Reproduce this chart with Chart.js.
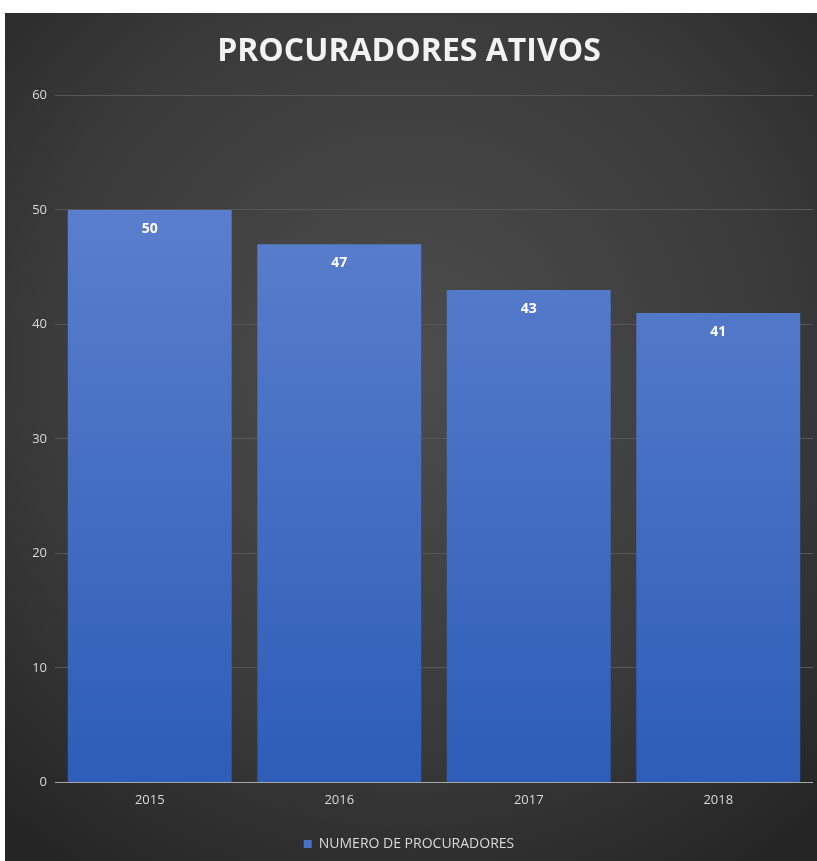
<!DOCTYPE html>
<html>
<head>
<meta charset="utf-8">
<script src="https://cdn.jsdelivr.net/npm/chart.js@4"></script>
<style>
  html, body { margin: 0; padding: 0; background: #ffffff; }
  #wrap { width: 817px; height: 861px; }
</style>
</head>
<body>
<div id="wrap"><canvas id="c" width="817" height="861"></canvas></div>
<script>
const categories = ['2015', '2016', '2017', '2018'];
const procuradores = [50, 47, 43, 41];
const seriesLabel = 'NUMERO DE PROCURADORES';
const chartTitle = 'PROCURADORES ATIVOS';
const yMin = 0, yMax = 60, yStep = 10;

const FONT = "'Open Sans', 'Liberation Sans', sans-serif";

const bgPlugin = {
  id: 'bg',
  beforeDraw(chart) {
    const ctx = chart.ctx, w = chart.width, h = chart.height;
    ctx.save();
    ctx.fillStyle = '#ffffff';
    ctx.fillRect(0, 0, w, h);
    const x0 = 5, y0 = 13;
    const g = ctx.createRadialGradient(w * 0.5, h * 0.42, 10, w * 0.5, h * 0.42, Math.max(w, h) * 0.72);
    g.addColorStop(0, '#4c4c4c');
    g.addColorStop(0.6, '#3a3a3a');
    g.addColorStop(1, '#242424');
    ctx.fillStyle = g;
    ctx.fillRect(x0, y0, w - x0, h - y0);
    ctx.restore();
  }
};

const labelPlugin = {
  id: 'vals',
  afterDatasetsDraw(chart) {
    const ctx = chart.ctx;
    const meta = chart.getDatasetMeta(0);
    ctx.save();
    ctx.font = "bold 14px " + FONT;
    ctx.fillStyle = '#ffffff';
    ctx.textAlign = 'center';
    ctx.textBaseline = 'middle';
    meta.data.forEach((bar, i) => {
      ctx.fillText(String(chart.data.datasets[0].data[i]), bar.x, bar.y + 19);
    });
    ctx.restore();
  }
};

new Chart(document.getElementById('c'), {
  type: 'bar',
  data: {
    labels: categories,
    datasets: [{
      label: seriesLabel,
      data: procuradores,
      backgroundColor(ctx) {
        const ca = ctx.chart.chartArea;
        if (!ca) return '#4472c4';
        const g = ctx.chart.ctx.createLinearGradient(0, ca.top, 0, ca.bottom);
        g.addColorStop(0, '#6185d0');
        g.addColorStop(0.2, '#587dcc');
        g.addColorStop(1, '#2d5db7');
        return g;
      },
      borderWidth: 0,
      categoryPercentage: 1.0,
      barPercentage: 0.865
    }]
  },
  options: {
    responsive: false,
    animation: false,
    devicePixelRatio: 1,
    layout: { padding: { left: 5, right: 4, top: 13, bottom: 0 } },
    plugins: {
      title: {
        display: true,
        text: chartTitle,
        color: '#f2f2f2',
        font: { family: FONT, size: 32, weight: 'bold' },
        padding: { top: 20, bottom: 24 }
      },
      legend: {
        display: true,
        position: 'bottom',
        labels: {
          color: '#d9d9d9',
          font: { family: FONT, size: 14 },
          boxWidth: 8,
          boxHeight: 8,
          padding: 10,
          generateLabels(chart) {
            return [{ text: seriesLabel, fillStyle: '#4472c4', strokeStyle: '#4472c4', lineWidth: 0, fontColor: '#d9d9d9', datasetIndex: 0 }];
          }
        }
      },
      tooltip: { enabled: false }
    },
    scales: {
      x: {
        afterFit(scale) { scale.height += 9; },
        grid: { display: false, drawTicks: false },
        border: { display: false },
        ticks: { color: '#d9d9d9', font: { family: FONT, size: 13 }, padding: 10 }
      },
      y: {
        min: yMin, max: yMax,
        afterFit(scale) { scale.width = 50; },
        grid: {
          drawTicks: false,
          color(ctx) { return ctx.tick && ctx.tick.value === 0 ? '#a6a6a6' : '#575757'; },
          lineWidth: 1
        },
        border: { display: false },
        ticks: { stepSize: yStep, color: '#d9d9d9', font: { family: FONT, size: 13 }, padding: 8 }
      }
    }
  },
  plugins: [bgPlugin, labelPlugin]
});
</script>
</body>
</html>
